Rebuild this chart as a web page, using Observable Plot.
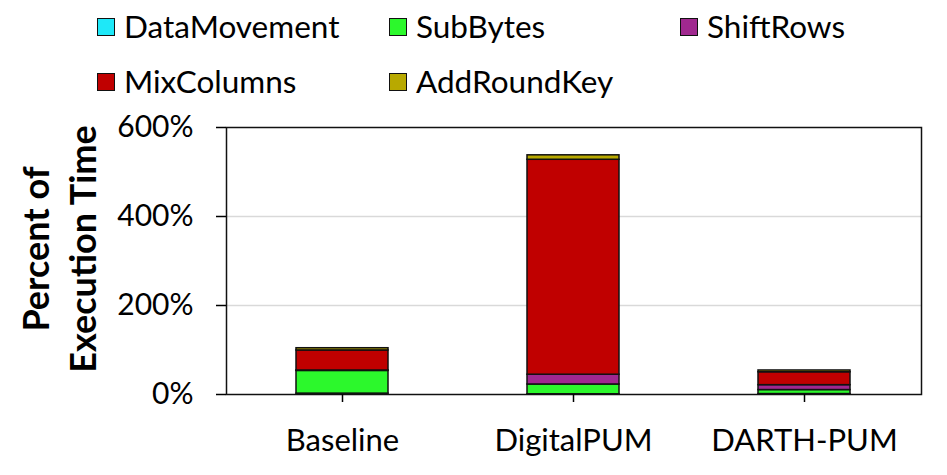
<!DOCTYPE html>
<html>
<head>
<meta charset="utf-8">
<script src="https://cdn.jsdelivr.net/npm/d3@7"></script>
<script src="https://cdn.jsdelivr.net/npm/@observablehq/plot@0.6"></script>
<style>
  html, body { margin: 0; padding: 0; background: #fff; }
  body { width: 947px; height: 475px; overflow: hidden; font-family: Lato, "Open Sans", sans-serif; }
  #legend { position: relative; width: 947px; height: 110px; }
  .item { position: absolute; display: flex; align-items: center; font-size: 31.5px; color: #000; line-height: 1; white-space: nowrap; }
  .sw { width: 16px; height: 16px; border: 1.5px solid #111; margin-right: 9px; }
  #chart svg { display: block; }
</style>
</head>
<body>
<div id="legend"></div>
<div id="chart"></div>
<script>
const categories = ["Baseline", "DigitalPUM", "DARTH-PUM"];
const seriesNames = ["DataMovement", "SubBytes", "ShiftRows", "MixColumns", "AddRoundKey"];
const colors = ["#1ee8f8", "#2cf82c", "#a0288f", "#c00000", "#b8a900"];
// percent of execution time per category, in series order
const DataMovement = [2, 0.5, 1];
const SubBytes     = [51, 22, 9];
const ShiftRows    = [1, 22, 11];
const MixColumns   = [45, 483, 29];
const AddRoundKey  = [5, 10, 4];
const yTicks = [0, 200, 400, 600];

const seriesValues = [DataMovement, SubBytes, ShiftRows, MixColumns, AddRoundKey];
const data = [];
categories.forEach((c, i) => {
  seriesNames.forEach((s, j) => data.push({category: c, series: s, value: seriesValues[j][i]}));
});

// legend
const legendPos = [
  {left: 97, top: 11}, {left: 389, top: 11}, {left: 680, top: 11},
  {left: 97, top: 66}, {left: 389, top: 66}
];
const legend = document.getElementById("legend");
seriesNames.forEach((s, j) => {
  const it = document.createElement("div");
  it.className = "item";
  it.style.left = legendPos[j].left + "px";
  it.style.top = legendPos[j].top + "px";
  const sw = document.createElement("div");
  sw.className = "sw";
  sw.style.background = colors[j];
  const tx = document.createElement("span");
  tx.textContent = s;
  it.appendChild(sw); it.appendChild(tx);
  legend.appendChild(it);
});

const chart = Plot.plot({
  width: 947,
  height: 365,
  marginTop: 17,
  marginBottom: 81,
  marginLeft: 226,
  marginRight: 26,
  style: {fontFamily: "Lato, 'Open Sans', sans-serif", fontSize: "30px", color: "#000", background: "#fff", overflow: "visible"},
  x: {domain: categories, paddingInner: 0.6, paddingOuter: 0.3, label: null},
  y: {domain: [0, 600], label: null},
  color: {domain: seriesNames, range: colors},
  marks: [
    Plot.gridY([200, 400], {stroke: "#d9d9d9", strokeOpacity: 1, strokeWidth: 1.5}),
    Plot.barY(data, {x: "category", y: "value", fill: "series", order: seriesNames, stroke: "#111", strokeWidth: 1.5}),
    Plot.frame({stroke: "#111", strokeWidth: 1.5}),
    Plot.axisY({ticks: yTicks, tickFormat: d => d + "%", tickSize: 10, tickPadding: 23, strokeWidth: 1.5, fontSize: 30}),
    Plot.axisX({tickSize: 8, tickPadding: 26, strokeWidth: 1.5, fontSize: 31}),
    Plot.text(["Percent of"], {frameAnchor: "left", textAnchor: "middle", dx: -189, dy: -12, rotate: -90, fontWeight: "bold", fontSize: 36}),
    Plot.text(["Execution Time"], {frameAnchor: "left", textAnchor: "middle", dx: -142, dy: -12, rotate: -90, fontWeight: "bold", fontSize: 36})
  ]
});
document.getElementById("chart").appendChild(chart);
</script>
</body>
</html>
